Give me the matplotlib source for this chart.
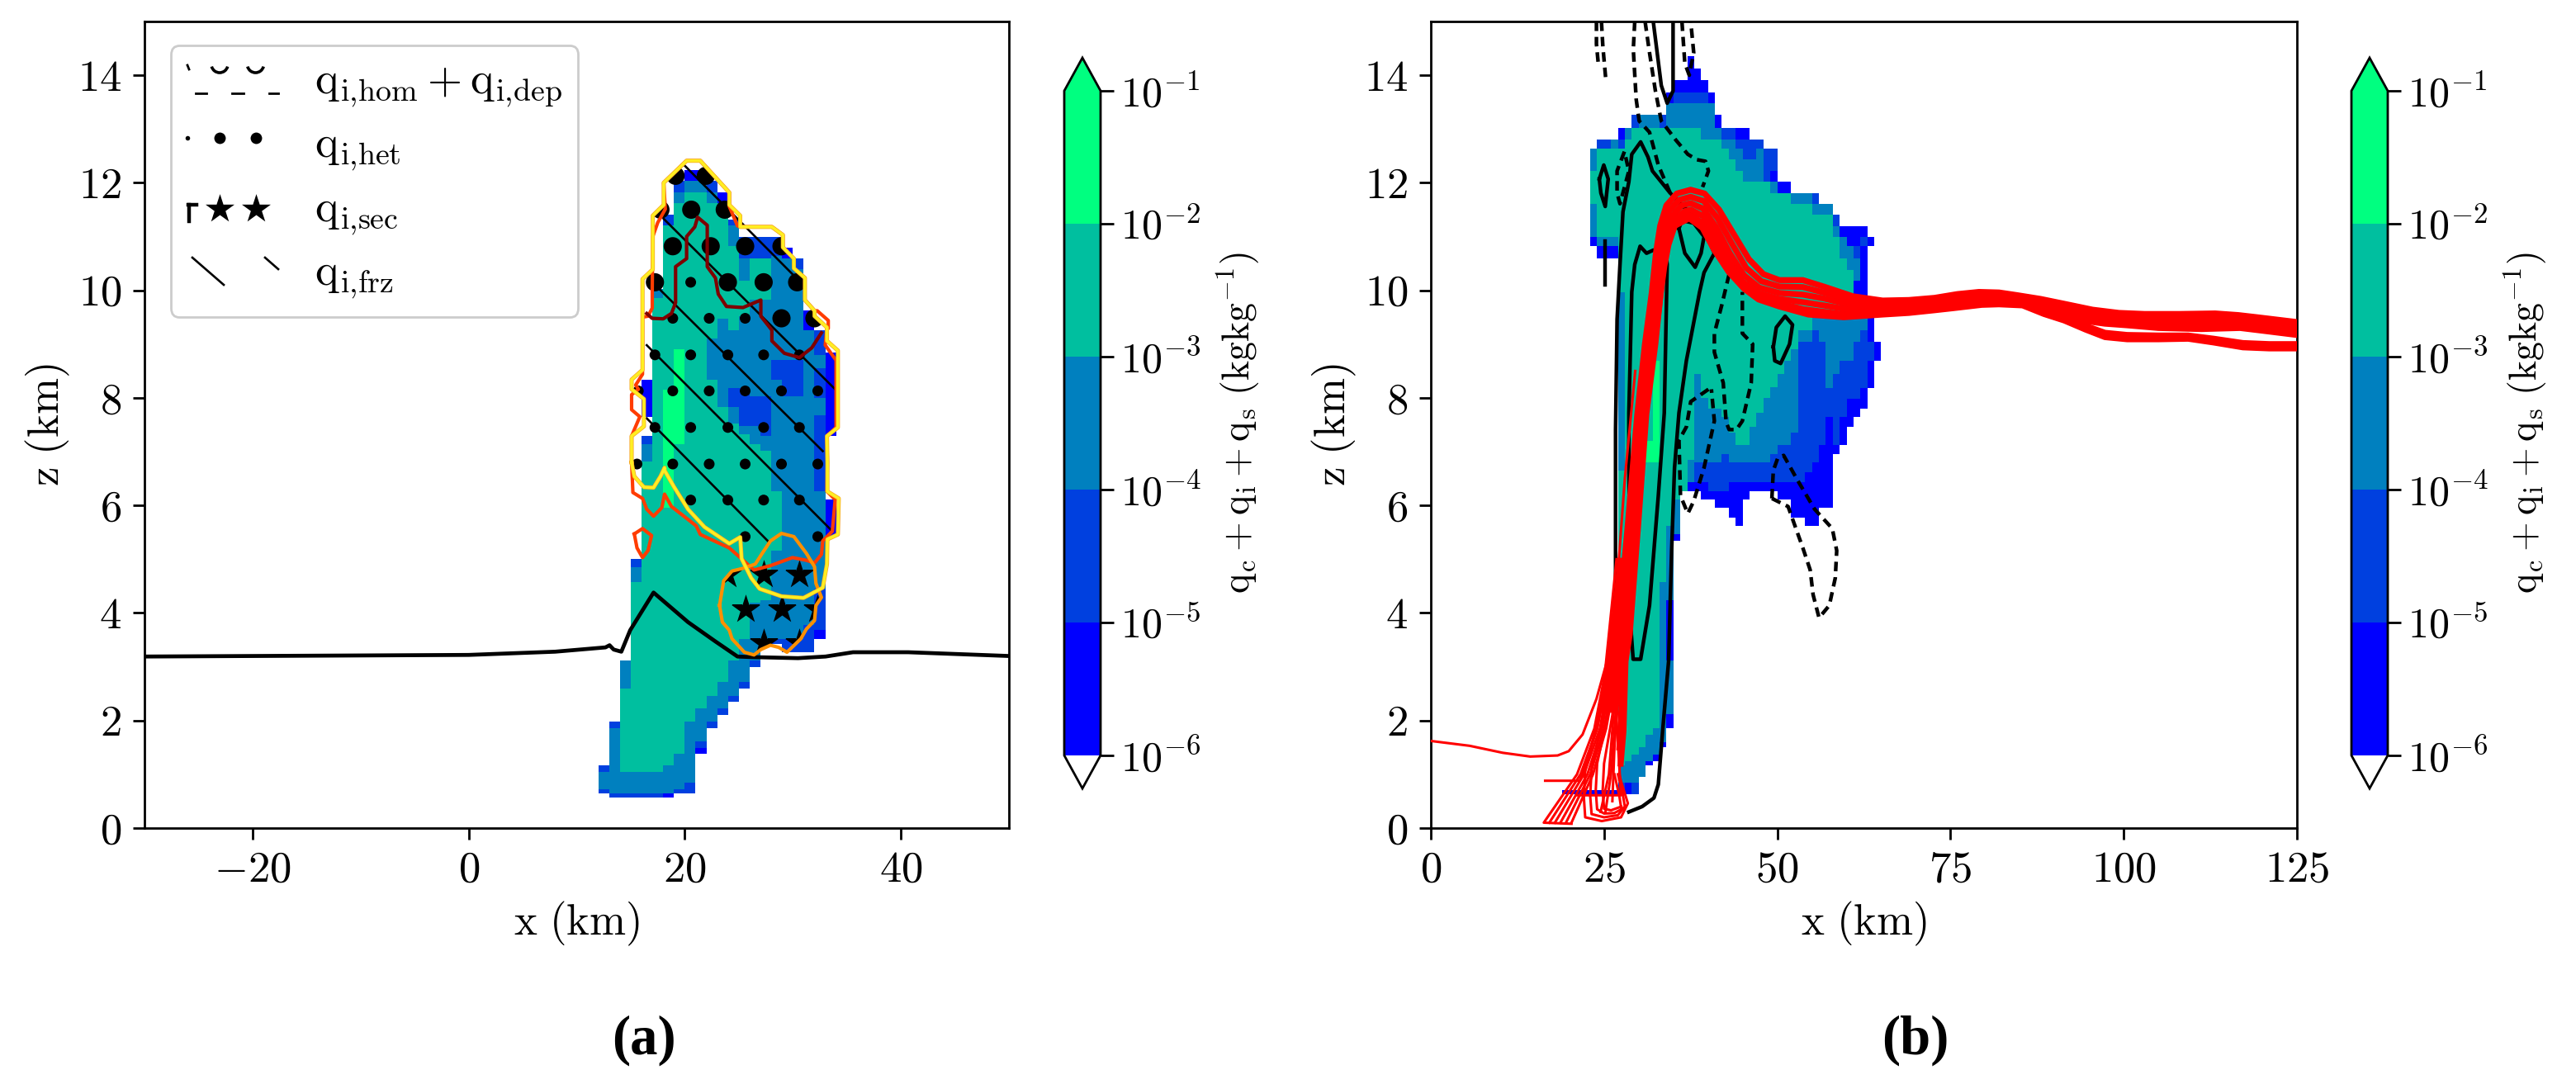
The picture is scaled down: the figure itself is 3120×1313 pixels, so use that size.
import matplotlib
matplotlib.use("Agg")
import matplotlib.pyplot as plt
import numpy as np
from matplotlib.colors import BoundaryNorm, ListedColormap
from matplotlib.patches import Patch, Polygon
from matplotlib.path import Path

plt.rcParams["mathtext.fontset"] = "cm"
plt.rcParams["font.family"] = ["Liberation Serif", "DejaVu Serif"]

LEVELS = [1e-6, 1e-5, 1e-4, 1e-3, 1e-2, 1e-1]
LEVEL_LABELS = ["$10^{-6}$", "$10^{-5}$", "$10^{-4}$", "$10^{-3}$", "$10^{-2}$", "$10^{-1}$"]
BAND_COLOURS = ["#0000ff", "#0040df", "#0080bf", "#00bf9f", "#00ff80"]

# each column: (z where the class starts, class) going downwards; class 0 is empty
A_COLUMNS = {
    12: [(1.17, 2), (1.04, 3), (0.72, 2), (0.64, 0)],
    13: [(1.98, 2), (1.86, 3), (0.64, 2), (0.57, 0)],
    14: [(3.12, 3), (2.59, 4), (1.04, 3), (0.64, 2), (0.57, 0)],
    15: [(5.01, 2), (4.85, 3), (4.57, 4), (1.04, 3), (0.64, 2), (0.57, 0)],
    16: [(8.34, 1), (7.65, 0), (7.29, 2), (7.14, 3), (6.81, 4), (1.04, 3), (0.64, 2), (0.57, 0)],
    17: [(10.03, 3), (9.85, 4), (1.04, 3), (0.64, 2), (0.57, 0)],
    18: [(11.41, 2), (11.21, 4), (8.16, 5), (5.96, 4), (1.17, 3), (0.64, 1), (0.57, 0)],
    19: [(12.03, 2), (11.82, 3), (11.62, 4), (8.9, 5), (7.14, 4), (1.38, 3), (0.72, 2), (0.64, 0)],
    20: [(12.23, 1), (12.03, 3), (11.82, 4), (1.98, 3), (0.84, 2), (0.64, 0)],
    21: [(12.23, 1), (12.03, 3), (11.82, 4), (2.22, 3), (1.61, 2), (1.49, 1), (1.38, 0)],
    22: [(12.03, 2), (11.82, 3), (11.62, 4), (9.11, 3), (8.34, 4), (2.45, 3), (1.98, 2), (1.86, 0)],
    23: [(11.82, 1), (11.62, 4), (9.47, 3), (7.83, 4), (2.71, 3), (2.22, 2), (2.10, 0)],
    24: [(11.31, 2), (11.21, 3), (10.82, 4), (9.26, 3), (8.19, 2), (7.83, 3), (7.52, 4), (3.12, 3), (2.45, 2), (2.35, 0)],
    25: [(11.0, 2), (10.59, 3), (10.18, 4), (9.52, 3), (8.19, 2), (7.47, 3), (7.32, 4), (3.52, 3), (2.71, 2), (2.59, 0)],
    26: [(11.0, 2), (10.59, 4), (9.82, 3), (8.03, 2), (7.47, 3), (7.14, 4), (4.19, 3), (3.12, 2), (2.99, 0)],
    27: [(11.0, 2), (10.59, 4), (9.82, 3), (8.03, 2), (7.29, 3), (7.01, 4), (4.24, 3), (3.52, 0)],
    28: [(11.0, 2), (10.64, 3), (8.7, 2), (8.34, 3), (6.26, 4), (5.16, 3), (3.52, 2), (3.42, 0)],
    29: [(10.8, 1), (10.59, 3), (8.7, 2), (8.03, 3), (3.52, 2), (3.27, 0)],
    30: [(10.59, 2), (10.39, 3), (8.7, 2), (8.03, 3), (3.52, 2), (3.27, 0)],
    31: [(9.62, 1), (9.26, 3), (3.78, 2), (3.27, 0)],
    32: [(9.26, 2), (8.8, 3), (8.55, 2), (8.0, 3), (7.68, 2), (6.26, 3), (4.45, 2), (3.68, 1), (3.52, 0)],
    33: [(8.85, 1), (7.3, 0), (6.11, 1), (5.42, 0)],
}

B_COLUMNS = {
    19: [(0.71, 1), (0.63, 0)],
    20: [(0.71, 1), (0.63, 0)],
    21: [(0.71, 1), (0.63, 0)],
    22: [(0.71, 1), (0.63, 0)],
    23: [(12.63, 3), (12.22, 4), (11.61, 3), (11.0, 1), (10.82, 0), (0.71, 1), (0.63, 0)],
    24: [(12.81, 2), (12.63, 4), (11.0, 3), (10.82, 1), (10.59, 0), (0.71, 1), (0.63, 0)],
    25: [(12.81, 2), (12.63, 4), (11.0, 3), (10.82, 1), (10.59, 0), (0.71, 1), (0.63, 0)],
    26: [(12.81, 3), (12.63, 4), (11.0, 3), (10.82, 1), (10.59, 0), (0.71, 1), (0.63, 0)],
    27: [(13.02, 1), (12.81, 2), (12.63, 4), (9.97, 3), (6.65, 4), (1.17, 3), (0.84, 2), (0.63, 0)],
    28: [(13.02, 3), (12.81, 4), (1.25, 3), (0.84, 1), (0.63, 0)],
    29: [(13.27, 2), (13.02, 4), (1.37, 3), (0.84, 2), (0.63, 0)],
    30: [(13.27, 3), (13.02, 4), (1.5, 3), (0.95, 0)],
    31: [(13.27, 3), (13.02, 4), (7.2, 5), (6.8, 4), (1.73, 3), (1.25, 1), (1.17, 0)],
    32: [(13.27, 3), (13.02, 4), (8.69, 5), (6.8, 4), (1.86, 3), (1.37, 1), (1.25, 0)],
    33: [(13.27, 2), (13.02, 4), (4.57, 3), (1.6, 1), (1.5, 0)],
    34: [(13.68, 1), (13.48, 3), (13.02, 4), (5.62, 3), (4.24, 1), (3.11, 3), (2.12, 1), (1.86, 0)],
    35: [(13.91, 1), (13.68, 2), (13.48, 3), (13.02, 4), (6.11, 3), (5.47, 1), (5.34, 0)],
    36: [(13.91, 1), (13.68, 2), (13.48, 3), (13.02, 4), (6.26, 0)],
    37: [(14.35, 1), (13.68, 2), (13.48, 3), (13.02, 4), (6.85, 3), (6.44, 1), (6.26, 0)],
    38: [(14.12, 1), (13.68, 2), (13.48, 3), (13.02, 4), (8.44, 3), (6.8, 2), (6.44, 1), (6.26, 0)],
    39: [(13.91, 1), (13.68, 2), (13.48, 3), (12.81, 4), (8.0, 3), (6.8, 2), (6.44, 1), (6.11, 0)],
    40: [(13.68, 1), (13.48, 3), (12.81, 4), (7.8, 3), (6.8, 2), (6.26, 1), (6.11, 0)],
    41: [(13.27, 1), (13.02, 3), (12.81, 4), (7.8, 3), (6.8, 2), (6.26, 1), (5.95, 0)],
    42: [(13.02, 2), (12.81, 3), (12.63, 4), (7.65, 3), (6.95, 2), (6.26, 1), (5.95, 0)],
    43: [(13.02, 2), (12.81, 3), (12.43, 4), (7.36, 3), (6.8, 2), (6.44, 1), (5.77, 0)],
    44: [(13.02, 1), (12.81, 2), (12.63, 3), (12.22, 4), (7.13, 3), (6.8, 2), (6.44, 1), (5.62, 0)],
    45: [(13.02, 1), (12.81, 2), (12.43, 3), (12.02, 4), (7.13, 3), (6.8, 2), (6.44, 1), (6.11, 0)],
    46: [(12.81, 2), (12.43, 3), (12.02, 4), (7.46, 3), (6.8, 2), (6.44, 1), (6.26, 0)],
    47: [(12.81, 2), (12.63, 3), (12.02, 4), (7.72, 3), (6.8, 2), (6.44, 1), (6.26, 0)],
    48: [(12.63, 2), (12.02, 4), (8.0, 3), (6.8, 2), (6.44, 1), (6.26, 0)],
    49: [(12.63, 2), (12.22, 1), (12.02, 3), (11.81, 4), (8.2, 3), (6.95, 2), (6.44, 1), (6.26, 0)],
    50: [(12.02, 1), (11.81, 4), (8.44, 3), (7.13, 2), (6.44, 1), (6.11, 0)],
    51: [(12.02, 1), (11.81, 4), (8.69, 3), (7.13, 2), (6.44, 1), (6.11, 0)],
    52: [(11.81, 3), (11.61, 4), (8.9, 3), (7.36, 2), (6.44, 1), (5.77, 0)],
    53: [(11.81, 3), (11.61, 4), (9.26, 3), (9.05, 2), (6.44, 1), (5.77, 0)],
    54: [(11.81, 3), (11.61, 4), (9.26, 3), (9.05, 2), (6.62, 1), (5.62, 0)],
    55: [(11.81, 2), (11.61, 3), (11.41, 4), (9.51, 3), (9.26, 2), (6.8, 1), (5.62, 0)],
    56: [(11.61, 3), (11.41, 4), (9.51, 3), (9.05, 2), (7.13, 1), (5.95, 0)],
    57: [(11.61, 3), (11.41, 4), (9.51, 3), (8.18, 2), (7.65, 1), (5.95, 0)],
    58: [(11.41, 2), (11.2, 3), (11.0, 4), (9.51, 3), (8.44, 2), (7.13, 1), (6.95, 0)],
    59: [(11.2, 1), (11.0, 3), (10.59, 4), (9.77, 3), (8.69, 2), (7.65, 1), (7.13, 0)],
    60: [(11.2, 1), (10.82, 3), (10.38, 4), (9.77, 3), (8.69, 2), (7.98, 1), (7.46, 0)],
    61: [(11.2, 1), (10.82, 2), (10.59, 3), (10.18, 1), (9.77, 3), (9.05, 2), (7.98, 1), (7.65, 0)],
    62: [(11.2, 1), (11.0, 2), (10.82, 1), (10.4, 1), (9.77, 3), (9.26, 2), (8.18, 1), (7.8, 0)],
    63: [(11.0, 1), (10.82, 0), (9.51, 1), (9.05, 2), (8.69, 1), (8.18, 0)],
    64: [(9.05, 1), (8.69, 0)],
}

GROUND_X = [-30, -10, 0, 8, 12.66, 13.04, 13.42, 14.13, 14.95, 17.11, 20.3, 22.84, 24.88, 26.15, 30.48, 33.03, 35.57, 40.67, 50]
GROUND_Z = [3.19, 3.21, 3.22, 3.28, 3.36, 3.4, 3.32, 3.28, 3.68, 4.38, 3.83, 3.47, 3.19, 3.18, 3.16, 3.19, 3.27, 3.27, 3.2]

YELLOW = [(15.08, 6.8), (15.33, 6.54), (16.22, 6.34), (17.11, 6.33), (17.75, 6.54), (18.13, 6.7), (18.13, 6.65), (19.02, 6.34),
          (20.3, 5.93), (21.82, 5.6), (24.12, 5.29), (25.13, 5.41), (25.26, 5.01), (26.15, 4.65), (26.92, 4.45), (28.95, 4.31),
          (30.99, 4.28), (32.77, 4.47), (33.16, 4.91), (33.2, 5.37), (34.17, 5.46), (34.25, 6.13), (33.2, 6.26), (33.2, 6.8),
          (33.16, 7.29), (34.17, 7.45), (34.17, 8.88), (33.16, 9.06), (33.16, 9.31), (32.01, 9.52), (32.01, 9.62), (31.12, 9.82),
          (31.12, 10.23), (30.1, 10.41), (30.1, 10.59), (29.08, 10.8), (29.08, 11.03), (28.06, 11.18), (25.13, 11.18), (25.13, 11.39),
          (24.12, 11.59), (24.12, 11.82), (21.44, 12.41), (20.17, 12.41), (18.05, 12.0), (18.05, 11.59), (17.04, 11.39), (17.04, 10.39),
          (16.09, 10.21), (16.09, 8.52), (15.08, 8.34), (15.08, 8.16), (16.22, 7.98), (16.22, 7.47), (15.08, 7.29), (15.08, 6.8)]
ORANGERED = [(15.08, 6.8), (15.2, 6.24), (16.09, 6.13), (16.48, 5.93), (17.11, 5.8), (17.88, 5.96), (18.13, 6.21), (18.77, 5.98),
             (21.06, 5.62), (21.44, 5.46), (24.12, 5.21), (25.13, 5.03), (26.41, 4.8), (27.93, 4.88), (29.97, 5.03), (31.25, 4.98),
             (32.01, 4.93), (32.65, 5.09), (32.77, 5.34), (33.66, 5.52), (33.92, 6.11), (33.16, 6.26), (33.2, 6.8), (33.16, 7.29),
             (34.0, 7.45), (34.0, 8.7), (33.0, 8.98), (33.16, 9.31), (33.28, 9.29), (33.28, 9.44), (32.26, 9.62), (32.01, 9.62),
             (31.12, 9.82), (31.12, 10.23), (30.1, 10.41), (30.1, 10.59), (29.08, 10.8), (29.08, 11.03), (28.06, 11.18), (25.13, 11.18),
             (24.88, 11.2), (24.12, 11.56), (24.12, 11.82), (21.44, 12.41), (20.17, 12.41), (18.05, 12.0), (18.2, 11.51), (17.5, 11.26),
             (17.04, 11.0), (16.99, 10.03), (16.99, 9.67), (16.6, 9.52), (16.09, 9.5), (16.09, 8.44), (15.46, 8.24), (15.71, 8.16),
             (15.08, 8.06), (15.08, 7.78), (15.84, 7.65), (15.08, 7.29), (15.08, 6.8)]
ORANGERED_LOOP = [(15.33, 5.47), (16.09, 5.57), (16.93, 5.44), (16.6, 5.16), (16.09, 5.03), (15.58, 5.21), (15.33, 5.47)]
DARKRED = [(16.48, 9.57), (16.98, 9.48), (18.0, 9.47), (18.77, 9.57), (19.15, 9.77), (19.15, 10.44), (20.17, 10.59), (20.17, 11.0),
           (20.93, 11.18), (21.19, 11.36), (22.08, 11.21), (22.08, 10.44), (22.84, 10.23), (23.1, 9.93), (23.86, 9.7), (25.39, 9.68),
           (27.04, 9.82), (27.04, 9.52), (28.06, 9.26), (28.06, 9.06), (29.21, 8.83), (30.61, 8.75), (31.75, 8.93), (32.65, 9.21)]
ORANGE = [(23.22, 4.14), (23.6, 4.6), (24.37, 4.78), (25.39, 4.83), (26.53, 4.91), (27.17, 5.11), (27.93, 5.34), (28.95, 5.48),
          (30.1, 5.42), (31.25, 5.11), (32.01, 4.86), (32.14, 4.55), (32.65, 4.29), (32.14, 4.14), (32.01, 3.86), (31.25, 3.7),
          (30.74, 3.52), (29.46, 3.27), (28.7, 3.36), (27.93, 3.4), (27.04, 3.32), (26.41, 3.22), (25.52, 3.27), (24.37, 3.52),
          (24.12, 3.68), (23.48, 3.83), (23.22, 4.14)]
FRZ_LINES = [[(20.04, 12.31), (29.97, 10.3)], [(18.05, 11.33), (33.92, 8.16)], [(17.62, 10.03), (32.77, 7.01)],
             [(16.48, 8.98), (33.66, 5.52)], [(16.48, 7.62), (27.68, 5.34)]]

DOT_X = [19.15, 21.95, 17.75, 20.6, 23.7, 18.89, 22.4, 25.59, 28.95, 17.24, 20.55, 23.99, 27.3, 30.4, 18.89, 22.26, 25.59, 28.95, 32.0,
         17.24, 20.55, 23.99, 27.3, 30.61, 15.7, 18.89, 22.26, 25.59, 28.95, 32.31, 17.24, 20.55, 23.99, 27.3, 30.61,
         15.58, 18.89, 22.26, 25.59, 28.95, 32.31, 17.24, 20.55, 23.99, 27.3, 30.61, 25.59, 32.31]
DOT_Z = [12.13, 12.13, 11.5, 11.5, 11.5, 10.82, 10.82, 10.82, 10.82, 10.15, 10.15, 10.15, 10.15, 10.15, 9.48, 9.48, 9.48, 9.48, 9.48,
         8.8, 8.8, 8.8, 8.8, 8.8, 8.13, 8.13, 8.13, 8.13, 8.13, 8.13, 7.45, 7.45, 7.45, 7.45, 7.45,
         6.77, 6.77, 6.77, 6.77, 6.77, 6.77, 6.1, 6.1, 6.1, 6.1, 6.1, 5.42, 5.42]
DOT_BIG = [1, 1, 1, 1, 1, 1, 1, 1, 1, 1, 0, 1, 1, 1, 0, 0, 0, 1, 1,
           0, 0, 0, 0, 0, 0, 0, 0, 0, 0, 0, 0, 0, 0, 0, 0,
           0, 0, 0, 0, 0, 0, 0, 0, 0, 0, 0, 0, 0]
STAR_X = [23.95, 27.3, 30.61, 25.59, 28.95, 32.31, 27.3, 30.61]
STAR_Z = [4.72, 4.72, 4.72, 4.07, 4.07, 4.07, 3.44, 3.44]

SOLID_LINES = [
    [(28.58, 0.3), (30.5, 0.4), (32.2, 0.56), (32.83, 0.81), (33.47, 1.83), (34.32, 3.11), (34.75, 5.16), (35.17, 6.7), (35.81, 7.72), (36.88, 8.69),
     (38.79, 9.97), (39.43, 10.33), (40.92, 10.69), (39.22, 11.2), (34.54, 11.81), (31.98, 12.22), (31.34, 12.48), (30.28, 12.76),
     (29.0, 12.53), (28.58, 12.02), (27.73, 11.46), (27.3, 10.48), (26.88, 9.46), (26.66, 7.41), (26.66, 4.65), (26.45, 3.88), (25.6, 3.11)],
    [(31.98, 10.74), (31.13, 10.69), (30.2, 10.82), (29.43, 10.48), (29.0, 9.97), (28.58, 7.72), (28.58, 6.7), (28.92, 3.63), (29.2, 3.14),
     (30.28, 3.14), (31.56, 4.14), (32.83, 6.18), (33.69, 7.72), (34.11, 10.48), (34.0, 10.6)],
    [(35.81, 11.15), (36.66, 10.69), (38.15, 10.43), (39.0, 10.69), (39.43, 11.0), (37.94, 11.25), (36.24, 11.3), (35.81, 11.15)],
    [(24.32, 12.07), (24.96, 12.33), (25.6, 12.07), (25.17, 11.56), (24.54, 11.81), (24.32, 12.07)],
    [(25.17, 10.92), (25.17, 10.1)],
    [(49.43, 8.95), (49.86, 9.31), (51.13, 9.52), (52.2, 9.36), (51.77, 9.0), (50.49, 8.64), (49.64, 8.69), (49.43, 8.95)],
    [(32.1, 15.0), (33.26, 13.81), (34.11, 13.48), (34.96, 13.71), (34.96, 15.0)],
]
DASHED_LINES = [
    [(23.9, 15.0), (23.9, 14.58), (24.2, 14.17)],
    [(24.62, 15.0), (24.83, 14.53), (25.26, 13.91)],
    [(29.43, 15.0), (29.22, 14.48), (29.64, 13.55), (30.07, 13.15), (31.56, 12.94), (32.83, 12.33), (34.54, 11.81)],
    [(30.92, 15.0), (31.56, 14.42), (32.41, 13.71), (33.26, 13.15), (35.39, 12.79), (37.09, 12.53), (38.37, 12.43), (39.64, 12.4),
     (40.07, 12.22), (39.22, 11.92)],
    [(36.24, 15.0), (36.66, 14.22), (37.3, 14.0), (37.94, 14.42), (37.51, 15.0)],
    [(27.94, 12.58), (26.88, 12.22), (26.88, 11.81), (27.3, 11.61), (28.58, 12.22), (27.94, 12.58)],
    [(43.05, 10.3), (41.98, 9.72), (40.92, 9.2), (40.92, 8.85), (42.2, 8.28), (42.62, 7.55), (43.05, 7.41), (44.11, 7.41), (44.96, 7.57),
     (46.24, 8.28), (46.45, 9.0), (44.96, 9.2), (44.96, 9.97)],
    [(40.07, 8.16), (37.51, 7.93), (36.88, 7.46), (35.81, 7.21), (36.03, 6.18), (37.09, 5.85), (37.94, 6.08), (39.43, 6.7), (40.92, 7.57),
     (40.49, 8.16)],
    [(49.22, 6.13), (49.43, 6.65), (50.07, 6.88), (50.92, 6.93), (52.83, 6.49), (55.39, 5.93), (57.94, 5.57), (58.58, 5.16), (58.37, 4.65),
     (57.51, 4.14), (56.03, 3.91), (55.17, 4.34), (54.75, 4.8), (53.69, 5.21), (51.56, 5.98), (49.22, 6.13)],
]

# main bundle of parcels, rising leg to outflow
TRAJ_CORE = [
    [(24.7, 2.2), (26, 3.1), (27, 3.6), (28.4, 5.6), (29.8, 7.7), (30.9, 9.0), (31.9, 9.97), (32.5, 10.7), (33.1, 11.2), (34, 11.58), (35.5, 11.8),
     (37.5, 11.87), (39.5, 11.8), (41.6, 11.5), (43.7, 11.05), (45.9, 10.58), (48, 10.3), (50.3, 10.19), (53.7, 10.19), (56.7, 10.07), (60.9, 9.89),
     (65.2, 9.81), (69, 9.82), (72.7, 9.86), (76, 9.93), (79.1, 9.97), (82, 9.96), (84.6, 9.91), (88, 9.84), (91.4, 9.75), (95.5, 9.64), (99.3, 9.58),
     (103, 9.56), (108, 9.56), (113.2, 9.57), (116.5, 9.54), (119.2, 9.5), (125, 9.41)],
    [(25.4, 2.2), (26.5, 3.1), (27.4, 3.6), (28.7, 5.6), (30.1, 7.7), (31.2, 9), (32.2, 9.97), (32.8, 10.6), (33.5, 11.1), (34.4, 11.48), (35.8, 11.68),
     (37.5, 11.74), (39.4, 11.66), (41.4, 11.34), (43.4, 10.88), (45.5, 10.42), (47.7, 10.17), (50.3, 10.07), (53.7, 10.06), (56.7, 9.96), (60.9, 9.81),
     (65.2, 9.74), (69, 9.76), (72.7, 9.8), (76, 9.87), (79.1, 9.91), (82, 9.9), (84.6, 9.86), (88, 9.77), (91.4, 9.68), (95.5, 9.58), (99.3, 9.52),
     (103, 9.49), (108, 9.47), (113.2, 9.47), (116.5, 9.45), (119.2, 9.42), (125, 9.32)],
    [(26, 2.2), (27, 3.1), (27.8, 3.6), (29.1, 5.6), (30.4, 7.7), (31.6, 9), (32.6, 9.97), (33.1, 10.55), (33.9, 11.05), (34.8, 11.38), (36.2, 11.58),
     (37.5, 11.62), (39.3, 11.52), (41.2, 11.17), (43.1, 10.7), (45.2, 10.28), (47.4, 10.05), (50.3, 9.95), (53.7, 9.92), (56.7, 9.85), (60.9, 9.72),
     (65.2, 9.68), (69, 9.71), (72.7, 9.76), (76, 9.82), (79.1, 9.86), (82, 9.85), (84.6, 9.81), (88, 9.71), (91.4, 9.6), (95.5, 9.5), (99.3, 9.44),
     (103, 9.41), (108, 9.38), (113.2, 9.38), (116.5, 9.36), (119.2, 9.33), (125, 9.22)],
    [(26.6, 2.2), (27.6, 3.1), (28.2, 3.6), (29.5, 5.6), (30.8, 7.7), (32, 9), (32.9, 9.97), (33.4, 10.5), (34.2, 10.95), (35.1, 11.3), (36.6, 11.47),
     (37.5, 11.5), (39.3, 11.38), (41.1, 11.0), (42.9, 10.55), (44.9, 10.17), (47.2, 9.95), (50.3, 9.84), (53.7, 9.78), (56.7, 9.72), (60.9, 9.63),
     (65.2, 9.62), (69, 9.66), (72.7, 9.72), (76, 9.78), (79.5, 9.8), (82, 9.8), (85, 9.77), (88, 9.64), (91.4, 9.52), (95, 9.42), (97.3, 9.38),
     (100.5, 9.35), (105, 9.3), (111.2, 9.28), (116.8, 9.3), (120, 9.25), (125, 9.17)],
    [(27.2, 1.5), (27.9, 3.1), (28.5, 3.6), (29.7, 5.6), (31, 7.7), (32.3, 9), (33.2, 9.97), (33.7, 10.45), (34.3, 10.85), (35.2, 11.2), (36.9, 11.42),
     (38, 11.36), (39.2, 11.25), (40.9, 10.88), (42.8, 10.42), (44.9, 10.1), (47.2, 9.88), (50.3, 9.76), (53.7, 9.65), (56.7, 9.6), (60, 9.55),
     (65.2, 9.58), (69, 9.62), (72.7, 9.68), (76, 9.74), (79.5, 9.77), (82, 9.78), (85.4, 9.74), (88.5, 9.6), (91.4, 9.48), (94.5, 9.34), (97.3, 9.21),
     (100.5, 9.17), (105, 9.16), (109.3, 9.16), (113, 9.1), (117.2, 9.02), (121, 9.0), (125, 9.0)],
    [(27.4, 1.2), (27.8, 1.8), (28.1, 3.1), (28.7, 3.6), (29.9, 5.6), (31.1, 7.7), (32.4, 9), (33.6, 10.48), (34.2, 10.9), (35.2, 11.2), (37.3, 11.34),
     (39.2, 11.16), (40.9, 10.75), (43, 10.34), (45.2, 10.03), (47.3, 9.83), (50.3, 9.7), (54.5, 9.55), (59.6, 9.5), (65.2, 9.55), (69, 9.58), (72.7, 9.63),
     (75.5, 9.67), (79.5, 9.73), (82, 9.74), (85.4, 9.72), (88.5, 9.56), (91.4, 9.44), (94.5, 9.27), (97.3, 9.13), (100.5, 9.09), (105, 9.09), (109.3, 9.1),
     (113, 9.03), (117.2, 8.94), (121, 8.92), (125, 8.92)],
]
# thin parcels that start near the surface
TRAJ_THIN = [
    [(20.3, 0.08), (16.3, 0.1), (21.1, 1.0), (23.6, 1.85), (25.1, 2.85), (26.8, 5)],
    [(17.1, 0.1), (21.6, 1.0), (24.0, 1.85), (25.5, 2.85), (27.1, 5)],
    [(17.9, 0.1), (22.1, 1.0), (24.4, 1.85), (25.8, 2.85), (27.3, 5)],
    [(18.7, 0.1), (22.6, 1.0), (24.7, 1.85), (26.1, 2.85), (27.5, 5)],
    [(19.5, 0.1), (23.0, 1.0), (25.0, 1.85), (26.4, 2.85), (27.7, 5)],
    [(20.3, 0.1), (23.4, 1.0), (25.3, 1.85), (26.7, 2.85), (27.9, 5)],
    [(16.5, 0.88), (21.5, 0.88), (24, 1.85), (25.6, 2.85), (27.2, 5)],
    [(21.1, 0.61), (27.45, 0.61), (26.8, 2), (27.5, 3.2)],
    [(27.2, 1.0), (27.45, 0.87), (28.44, 0.46), (27.45, 0.2), (24.67, 0.13), (22.28, 0.2), (22.09, 0.56), (22.28, 1.07), (24.27, 2.1), (25.46, 3.12), (27.3, 5)],
    [(27.0, 1.0), (27.6, 0.7), (28, 0.4), (27, 0.24), (25, 0.2), (23.2, 0.26), (23, 0.6), (23.2, 1.1), (24.9, 2.1), (26, 3.12), (27.7, 5)],
    [(26.5, 1), (27.2, 0.6), (27.5, 0.35), (26.5, 0.28), (25, 0.27), (24, 0.35), (23.8, 0.7), (24, 1.2), (25.5, 2.1), (26.5, 3.12), (28, 5)],
    [(27.5, 0.4), (26, 0.33), (25, 0.36), (24.8, 0.7), (25, 1.2), (26.2, 2.1), (27, 3.12), (28.3, 5)],
    [(24.5, 0.3), (25.7, 1.0), (26.3, 2), (27, 3.12), (28, 5)],
    [(25.2, 0.3), (26, 1), (26.6, 2), (27.2, 3.12), (28.3, 5)],
    [(26.2, 0.5), (26.5, 1.5), (27.0, 2.5), (27.6, 3.12), (28.6, 5)],
    [(27.2, 0.9), (27.4, 2), (27.9, 3.12), (29, 5)],
    [(27.4, 1.17), (27.9, 2.2), (28.2, 3.1), (29.3, 5)],
    [(0, 1.62), (5.6, 1.53), (10.37, 1.4), (14.35, 1.33), (18.3, 1.35), (19.9, 1.43), (21.9, 1.74), (23.9, 2.4), (25.46, 3.12), (26, 3.63),
     (26.88, 4.55), (28, 6.5), (29.5, 8.5)],
]


def columns_to_field(columns):
    edges = sorted({0.0, 15.0} | {z for segs in columns.values() for z, _ in segs})
    edges = np.array(edges)
    x_left = sorted(columns)
    x_edges = np.arange(x_left[0], x_left[-1] + 2)
    field = np.full((len(edges) - 1, len(x_left)), np.nan)
    mids = 0.5 * (edges[1:] + edges[:-1])
    for j, left in enumerate(x_left):
        segs = columns[left]
        for (top, cls), (bot, _) in zip(segs[:-1], segs[1:]):
            if cls > 0:
                field[(mids < top) & (mids > bot), j] = 10.0 ** (cls - 6.5)
    return x_edges, edges, field


def draw_line(ax, points, **kw):
    xs, zs = zip(*points)
    return ax.plot(xs, zs, **kw)


def style_axes(ax, xlim, xticks):
    ax.set_xlim(*xlim)
    ax.set_ylim(0, 15)
    ax.set_xticks(xticks)
    ax.set_xticklabels([f"${t}$" for t in xticks])
    ax.set_yticks(range(0, 15, 2))
    ax.set_yticklabels([f"${t}$" for t in range(0, 15, 2)])
    ax.tick_params(labelsize=19, length=5, width=1.0, pad=5)
    for sp in ax.spines.values():
        sp.set_linewidth(1.0)
    ax.set_xlabel(r"$\mathrm{x\ (km)}$", fontsize=19, labelpad=4)
    ax.set_ylabel(r"$\mathrm{z\ (km)}$", fontsize=19, labelpad=2.4)


W, H = 3120, 1313
fig = plt.figure(figsize=(W / 200, H / 200))
ax_a = fig.add_axes([175 / W, 1 - 1003 / H, 1047 / W, 977 / H])
ax_b = fig.add_axes([1733 / W, 1 - 1003 / H, 1049 / W, 977 / H])

cmap = ListedColormap(BAND_COLOURS)
cmap.set_under("white")
cmap.set_over(BAND_COLOURS[-1])
norm = BoundaryNorm(LEVELS, cmap.N)

mesh = None
for ax, columns in ((ax_a, A_COLUMNS), (ax_b, B_COLUMNS)):
    xe, ze, field = columns_to_field(columns)
    mesh = ax.pcolormesh(xe, ze, np.ma.masked_invalid(field), cmap=cmap, norm=norm, shading="flat", zorder=1)

style_axes(ax_a, (-30, 50), [-20, 0, 20, 40])
style_axes(ax_b, (0, 125), [0, 25, 50, 75, 100, 125])

# panel a: hatching drawn as marks, kept inside the contours like the original
yellow_clip = Polygon(YELLOW, closed=True, transform=ax_a.transData, fc="none", ec="none")
orange_clip = Polygon(ORANGE, closed=True, transform=ax_a.transData, fc="none", ec="none")
ax_a.add_patch(yellow_clip)
ax_a.add_patch(orange_clip)

for seg in FRZ_LINES:
    draw_line(ax_a, seg, color="black", lw=0.95, zorder=2)
dot_sizes = [63 if b else 22 for b in DOT_BIG]
dots = ax_a.scatter(DOT_X, DOT_Z, s=dot_sizes, color="black", linewidths=0, zorder=2)
dots.set_clip_path(yellow_clip)
stars = ax_a.scatter(STAR_X, STAR_Z, s=175, marker="*", color="black", linewidths=0, zorder=2)
stars.set_clip_path(orange_clip)

draw_line(ax_a, list(zip(GROUND_X, GROUND_Z)), color="black", lw=1.7, zorder=3)
draw_line(ax_a, ORANGERED, color="#ff3c00", lw=1.5, zorder=3)
draw_line(ax_a, ORANGERED_LOOP, color="#ff3c00", lw=1.5, zorder=3)
draw_line(ax_a, ORANGE, color="#ff9000", lw=1.5, zorder=4)
draw_line(ax_a, YELLOW, color="#f5a623", lw=1.8, zorder=4)
draw_line(ax_a, YELLOW, color="#ffee22", lw=1.3, zorder=4)
draw_line(ax_a, DARKRED, color="#7f0000", lw=1.5, zorder=4)

# legend with real text; its hatch swatches are drawn on top afterwards
labels = [r"$\mathrm{q_{i{,}hom}+q_{i{,}dep}}$", r"$\mathrm{q_{i{,}het}}$", r"$\mathrm{q_{i{,}sec}}$", r"$\mathrm{q_{i{,}frz}}$"]
handles = [Patch(fc="none", ec="none") for _ in labels]
leg = ax_a.legend(handles, labels, loc="upper left", bbox_to_anchor=((206.5 - 175) / 1047, (1003 - 55) / 977), borderaxespad=0,
                  fontsize=19.5, handlelength=2.05, handletextpad=0.81, labelspacing=0.37, borderpad=0.36, framealpha=1, edgecolor="0.8")
leg.set_zorder(5)


def frac(px, py):
    return (px - 175) / 1047, (1003 - py) / 977


def swatch_xy(points):
    return list(zip(*[frac(px, py) for px, py in points]))


kw = dict(transform=ax_a.transAxes, zorder=6, clip_on=False)
xs, ys = swatch_xy([(266, 78), (309.5, 78)])
ax_a.scatter(xs, ys, s=52, marker=Path.arc(195, 345), facecolors="none", edgecolors="black", linewidths=1.3, **kw)
for p0, p1 in (((237, 113), (250, 113)), ((281, 113), (295, 113)), ((326, 113), (337, 113)), ((227, 79), (229, 84))):
    xs, ys = swatch_xy([p0, p1])
    ax_a.plot(xs, ys, color="black", lw=1.0, **kw)
xs, ys = swatch_xy([(266, 167), (309.5, 167)])
ax_a.scatter(xs, ys, s=25, color="black", linewidths=0, **kw)
xs, ys = swatch_xy([(227, 167)])
ax_a.scatter(xs, ys, s=4, color="black", linewidths=0, **kw)
xs, ys = swatch_xy([(266, 253), (309.5, 253)])
ax_a.scatter(xs, ys, s=175, marker="*", color="black", linewidths=0, **kw)
for p0, p1 in (((228, 248), (238, 248)), ((229, 248), (229, 268))):
    xs, ys = swatch_xy([p0, p1])
    ax_a.plot(xs, ys, color="black", lw=1.6, **kw)
for p0, p1 in (((233, 312), (271, 345)), ((321, 312), (337, 326))):
    xs, ys = swatch_xy([p0, p1])
    ax_a.plot(xs, ys, color="black", lw=0.95, **kw)

# panel b
for line in SOLID_LINES:
    draw_line(ax_b, line, color="black", lw=1.6, zorder=3)
for line in DASHED_LINES:
    draw_line(ax_b, line, color="black", lw=1.6, dashes=(2.6, 1.6), zorder=3)
for line in TRAJ_CORE:
    draw_line(ax_b, line, color="red", lw=2.6, zorder=4, solid_joinstyle="round")
for line in TRAJ_THIN:
    draw_line(ax_b, line, color="red", lw=1.1, zorder=4)

# colourbars
for left in (1289, 2848):
    cax = fig.add_axes([left / W, 1 - 955 / H, 44 / W, 885 / H])
    cb = fig.colorbar(mesh, cax=cax, extend="both", extendfrac=44 / 885, ticks=LEVELS, spacing="uniform")
    cb.set_ticklabels(LEVEL_LABELS)
    cb.ax.tick_params(labelsize=18, length=5.8, width=1.0, pad=3)
    cb.outline.set_linewidth(1.0)
    cb.set_label(r"$\mathrm{q_c+q_i+q_s\ (kgkg^{-1})}$", fontsize=16.5, labelpad=6)

fig.text(780 / W, 1 - 1260 / H, "(a)", fontsize=24, fontweight="bold", ha="center", va="center")
fig.text(2320 / W, 1 - 1260 / H, "(b)", fontsize=24, fontweight="bold", ha="center", va="center")

fig.savefig("out.png", dpi=200, facecolor="white")
